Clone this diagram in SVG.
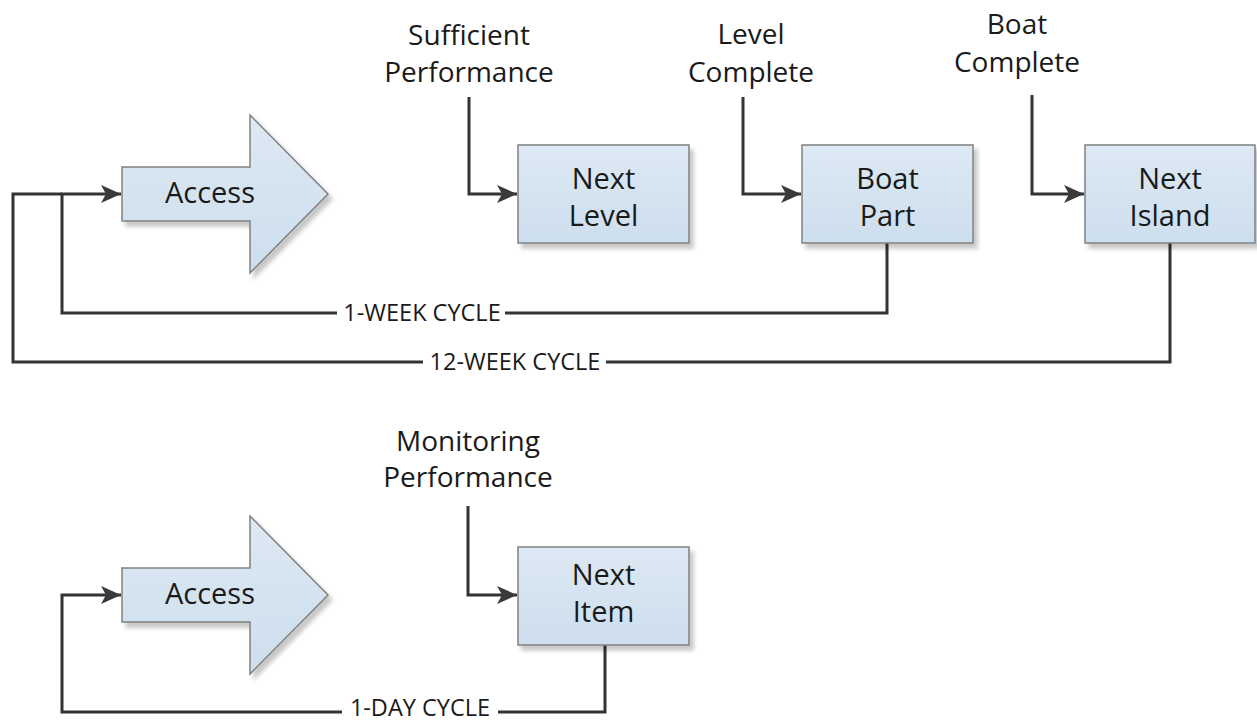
<svg xmlns="http://www.w3.org/2000/svg" width="1257" height="722" viewBox="0 0 1257 722">
<style>
.txt{font-family:"Open Sans","Noto Sans","Liberation Sans",sans-serif;font-size:28px;fill:#1a1a1a;text-anchor:middle}
.node{font-size:29px}
.lbl{font-family:"Open Sans","Noto Sans","Liberation Sans",sans-serif;font-size:23.5px;fill:#1a1a1a;text-anchor:middle}
.shape{fill:url(#g);stroke:#808080;stroke-width:1.5;filter:url(#sh)}
.conn{fill:none;stroke:#333;stroke-width:3;stroke-linejoin:miter}
.arr{marker-end:url(#ah)}
</style>
<defs>
<linearGradient id="g" x1="0" y1="0" x2="0" y2="1">
<stop offset="0" stop-color="#dde9f4"/>
<stop offset="1" stop-color="#cddeed"/>
</linearGradient>
<filter id="sh" x="-10%" y="-10%" width="130%" height="130%">
<feDropShadow dx="4" dy="5" stdDeviation="2" flood-color="#000" flood-opacity="0.22"/>
</filter>
<marker id="ah" markerUnits="userSpaceOnUse" markerWidth="22" markerHeight="20" refX="20" refY="9" orient="auto">
<path d="M0,0 L20,9 L0,18 L5,9 Z" fill="#3a3a3a"/>
</marker>
</defs>
<rect width="1257" height="722" fill="#fff"/>
<g id="connectors">
<path class="conn" d="M1170,243 V362 H13 V194 H62"/>
<path class="conn arr" d="M887,243 V313 H62 V194 H121"/>
<path class="conn arr" d="M469,97 V194 H517"/>
<path class="conn arr" d="M743,97 V194 H801"/>
<path class="conn arr" d="M1032,95 V194 H1084"/>
<path class="conn arr" d="M468,506 V595 H517"/>
<path class="conn arr" d="M605,645 V712 H62 V595 H121"/>
<rect x="337" y="300" width="168" height="26" fill="#fff"/>
<text class="lbl" x="422" y="321">1-WEEK CYCLE</text>
<rect x="423" y="349" width="183" height="26" fill="#fff"/>
<text class="lbl" x="515" y="370">12-WEEK CYCLE</text>
<rect x="342" y="698" width="156" height="24" fill="#fff"/>
<text class="lbl" x="420" y="716">1-DAY CYCLE</text>
</g>
<g id="access1">
<polygon class="shape" points="122,167 250,167 250,115 328,194 250,273 250,221 122,221"/>
<text class="txt node" x="210" y="203">Access</text>
</g>
<g id="nextLevel">
<rect class="shape" x="518" y="145" width="171" height="98"/>
<text class="txt node" x="603.5" y="189">Next</text>
<text class="txt node" x="603.5" y="226">Level</text>
</g>
<g id="boatPart">
<rect class="shape" x="802" y="145" width="171" height="98"/>
<text class="txt node" x="887.5" y="189">Boat</text>
<text class="txt node" x="887.5" y="226">Part</text>
</g>
<g id="nextIsland">
<rect class="shape" x="1085" y="145" width="170" height="98"/>
<text class="txt node" x="1170" y="189">Next</text>
<text class="txt node" x="1170" y="226">Island</text>
</g>
<g id="sufficientPerformance">
<text class="txt" x="469" y="45">Sufficient</text>
<text class="txt" x="469" y="82">Performance</text>
</g>
<g id="levelComplete">
<text class="txt" x="751" y="44">Level</text>
<text class="txt" x="751" y="82">Complete</text>
</g>
<g id="boatComplete">
<text class="txt" x="1017" y="34">Boat</text>
<text class="txt" x="1017" y="72">Complete</text>
</g>
<g id="access2">
<polygon class="shape" points="122,568 250,568 250,516 328,595 250,674 250,622 122,622"/>
<text class="txt node" x="210" y="604">Access</text>
</g>
<g id="nextItem">
<rect class="shape" x="518" y="547" width="171" height="98"/>
<text class="txt node" x="603.5" y="585">Next</text>
<text class="txt node" x="603.5" y="622">Item</text>
</g>
<g id="monitoringPerformance">
<text class="txt" x="468" y="451">Monitoring</text>
<text class="txt" x="468" y="487">Performance</text>
</g>
</svg>
